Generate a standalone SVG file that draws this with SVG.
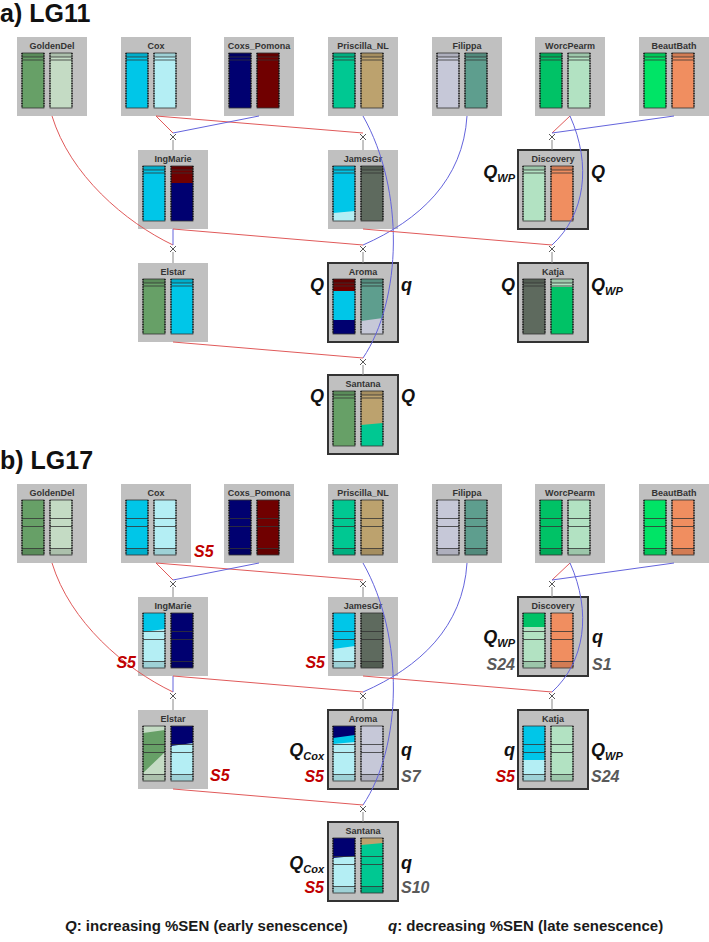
<svg xmlns="http://www.w3.org/2000/svg" width="709" height="942" viewBox="0 0 709 942">
<style>
.box{fill:#c0c0c0}
.boxb{fill:#c0c0c0;stroke:#333;stroke-width:2}
.t{font-family:"Liberation Sans",Arial,sans-serif;font-weight:bold;font-size:9px;fill:#333;text-anchor:middle}
.r{stroke:#e05a5a;fill:none;stroke-width:1}
.b{stroke:#6464dc;fill:none;stroke-width:1}
.x{stroke:#444;stroke-width:0.9;fill:none}
.stem{stroke:#888;stroke-width:1}
.lab{font-family:"Liberation Sans",Arial,sans-serif;font-weight:bold;font-style:italic;font-size:18px;fill:#111}
.sub{font-size:11px}
.s{font-family:"Liberation Sans",Arial,sans-serif;font-weight:bold;font-style:italic;font-size:16px}
.red{fill:#c00000}
.gry{fill:#595959}
.end{text-anchor:end}
.title{font-family:"Liberation Sans",Arial,sans-serif;font-weight:bold;font-size:25px;fill:#111}
.foot{font-family:"Liberation Sans",Arial,sans-serif;font-weight:bold;font-size:15px;fill:#1a1a1a}
</style>
<defs>
<g id="ovA">
<rect x="5" y="16" width="22" height="4" fill="#000" opacity="0.12"/>
<rect x="33" y="16" width="22" height="4" fill="#000" opacity="0.12"/>
<path d="M5,20h22M5,23h22M33,20h22M33,23h22" stroke="#333" stroke-width="0.8"/>
<rect x="5" y="16" width="22" height="55" fill="none" stroke="#333" stroke-width="0.8"/>
<rect x="33" y="16" width="22" height="55" fill="none" stroke="#333" stroke-width="0.8"/>
<path d="M5,16v55M27,16v55M33,16v55M55,16v55" stroke="#000" stroke-width="1.2" stroke-dasharray="1 1.5"/>
</g>
<g id="ovB">
<rect x="5" y="64.5" width="22" height="6.5" fill="#000" opacity="0.12"/>
<rect x="33" y="64.5" width="22" height="6.5" fill="#000" opacity="0.12"/>
<path d="M5,34.5h22M5,42.5h22M5,64.5h22M33,34.5h22M33,42.5h22M33,64.5h22" stroke="#333" stroke-width="0.8"/>
<rect x="5" y="16" width="22" height="55" fill="none" stroke="#333" stroke-width="0.8"/>
<rect x="33" y="16" width="22" height="55" fill="none" stroke="#333" stroke-width="0.8"/>
<path d="M5,16v55M27,16v55M33,16v55M55,16v55" stroke="#000" stroke-width="1.2" stroke-dasharray="1 1.5"/>
</g>
</defs>

<text class="title" x="0" y="22">a) LG11</text>
<text class="title" x="0" y="469">b) LG17</text>

<!-- ============ PANEL A NODES ============ -->
<g id="a-goldendel" transform="translate(17,37)">
<rect class="box" width="70" height="79"/><text class="t" x="35" y="12">GoldenDel</text>
<rect x="5" y="16" width="22" height="55" fill="#67a067"/><rect x="33" y="16" width="22" height="55" fill="#c4dbc4"/>
<use href="#ovA"/></g>
<g id="a-cox" transform="translate(121,37)">
<rect class="box" width="70" height="79"/><text class="t" x="35" y="12">Cox</text>
<rect x="5" y="16" width="22" height="55" fill="#00c6e8"/><rect x="33" y="16" width="22" height="55" fill="#b4eef4"/>
<use href="#ovA"/></g>
<g id="a-coxs_pomona" transform="translate(224,37)">
<rect class="box" width="70" height="79"/><text class="t" x="35" y="12">Coxs_Pomona</text>
<rect x="5" y="16" width="22" height="55" fill="#000070"/><rect x="33" y="16" width="22" height="55" fill="#700000"/>
<use href="#ovA"/></g>
<g id="a-priscilla_nl" transform="translate(328,37)">
<rect class="box" width="70" height="79"/><text class="t" x="35" y="12">Priscilla_NL</text>
<rect x="5" y="16" width="22" height="55" fill="#00c892"/><rect x="33" y="16" width="22" height="55" fill="#bca26e"/>
<use href="#ovA"/></g>
<g id="a-filippa" transform="translate(432,37)">
<rect class="box" width="70" height="79"/><text class="t" x="35" y="12">Filippa</text>
<rect x="5" y="16" width="22" height="55" fill="#c6c8d8"/><rect x="33" y="16" width="22" height="55" fill="#5e9e8e"/>
<use href="#ovA"/></g>
<g id="a-worcpearm" transform="translate(535,37)">
<rect class="box" width="70" height="79"/><text class="t" x="35" y="12">WorcPearm</text>
<rect x="5" y="16" width="22" height="55" fill="#00c266"/><rect x="33" y="16" width="22" height="55" fill="#b2e2c2"/>
<use href="#ovA"/></g>
<g id="a-beautbath" transform="translate(639,37)">
<rect class="box" width="70" height="79"/><text class="t" x="35" y="12">BeautBath</text>
<rect x="5" y="16" width="22" height="55" fill="#00e466"/><rect x="33" y="16" width="22" height="55" fill="#f08e60"/>
<use href="#ovA"/></g>

<g id="a-ingmarie" transform="translate(138,150)">
<rect class="box" width="70" height="79"/><text class="t" x="35" y="12">IngMarie</text>
<rect x="5" y="16" width="22" height="55" fill="#00c6e8"/>
<rect x="33" y="16" width="22" height="55" fill="#000070"/><rect x="33" y="16" width="22" height="17" fill="#700000"/>
<use href="#ovA"/></g>
<g id="a-jamesgr" transform="translate(328,150)">
<rect class="box" width="70" height="79"/><text class="t" x="35" y="12">JamesGr</text>
<rect x="5" y="16" width="22" height="55" fill="#00c6e8"/><polygon points="5,63 27,61 27,71 5,71" fill="#b4eef4"/>
<rect x="33" y="16" width="22" height="55" fill="#5e6a5e"/>
<use href="#ovA"/></g>
<g id="a-discovery" transform="translate(518,150)">
<rect class="boxb" width="70" height="79"/><text class="t" x="35" y="12">Discovery</text>
<rect x="5" y="16" width="22" height="55" fill="#b2e2c2"/><rect x="33" y="16" width="22" height="55" fill="#f08e60"/>
<use href="#ovA"/></g>

<g id="a-elstar" transform="translate(138,263)">
<rect class="box" width="70" height="79"/><text class="t" x="35" y="12">Elstar</text>
<rect x="5" y="16" width="22" height="55" fill="#67a067"/><rect x="33" y="16" width="22" height="55" fill="#00c6e8"/>
<use href="#ovA"/></g>
<g id="a-aroma" transform="translate(328,263)">
<rect class="boxb" width="70" height="79"/><text class="t" x="35" y="12">Aroma</text>
<rect x="5" y="16" width="22" height="12" fill="#700000"/><rect x="5" y="28" width="22" height="29" fill="#00c6e8"/><rect x="5" y="57" width="22" height="14" fill="#000070"/>
<rect x="33" y="16" width="22" height="55" fill="#c6c8d8"/><polygon points="33,16 55,16 55,55 33,58" fill="#5e9e8e"/>
<use href="#ovA"/></g>
<g id="a-katja" transform="translate(518,263)">
<rect class="boxb" width="70" height="79"/><text class="t" x="35" y="12">Katja</text>
<rect x="5" y="16" width="22" height="55" fill="#5e6a5e"/>
<rect x="33" y="16" width="22" height="55" fill="#00c266"/><rect x="33" y="16" width="22" height="8" fill="#b2e2c2"/>
<use href="#ovA"/></g>
<g id="a-santana" transform="translate(328,375)">
<rect class="boxb" width="70" height="79"/><text class="t" x="35" y="12">Santana</text>
<rect x="5" y="16" width="22" height="55" fill="#67a067"/>
<rect x="33" y="16" width="22" height="55" fill="#00c892"/><polygon points="33,16 55,16 55,48 33,50" fill="#bca26e"/>
<use href="#ovA"/></g>

<!-- ============ PANEL B NODES ============ -->
<g id="b-goldendel" transform="translate(17,484)">
<rect class="box" width="70" height="79"/><text class="t" x="35" y="12">GoldenDel</text>
<rect x="5" y="16" width="22" height="55" fill="#67a067"/><rect x="33" y="16" width="22" height="55" fill="#c4dbc4"/>
<use href="#ovB"/></g>
<g id="b-cox" transform="translate(121,484)">
<rect class="box" width="70" height="79"/><text class="t" x="35" y="12">Cox</text>
<rect x="5" y="16" width="22" height="55" fill="#00c6e8"/><rect x="33" y="16" width="22" height="55" fill="#b4eef4"/>
<use href="#ovB"/></g>
<g id="b-coxs_pomona" transform="translate(224,484)">
<rect class="box" width="70" height="79"/><text class="t" x="35" y="12">Coxs_Pomona</text>
<rect x="5" y="16" width="22" height="55" fill="#000070"/><rect x="33" y="16" width="22" height="55" fill="#700000"/>
<use href="#ovB"/></g>
<g id="b-priscilla_nl" transform="translate(328,484)">
<rect class="box" width="70" height="79"/><text class="t" x="35" y="12">Priscilla_NL</text>
<rect x="5" y="16" width="22" height="55" fill="#00c892"/><rect x="33" y="16" width="22" height="55" fill="#bca26e"/>
<use href="#ovB"/></g>
<g id="b-filippa" transform="translate(432,484)">
<rect class="box" width="70" height="79"/><text class="t" x="35" y="12">Filippa</text>
<rect x="5" y="16" width="22" height="55" fill="#c6c8d8"/><rect x="33" y="16" width="22" height="55" fill="#5e9e8e"/>
<use href="#ovB"/></g>
<g id="b-worcpearm" transform="translate(535,484)">
<rect class="box" width="70" height="79"/><text class="t" x="35" y="12">WorcPearm</text>
<rect x="5" y="16" width="22" height="55" fill="#00c266"/><rect x="33" y="16" width="22" height="55" fill="#b2e2c2"/>
<use href="#ovB"/></g>
<g id="b-beautbath" transform="translate(639,484)">
<rect class="box" width="70" height="79"/><text class="t" x="35" y="12">BeautBath</text>
<rect x="5" y="16" width="22" height="55" fill="#00e466"/><rect x="33" y="16" width="22" height="55" fill="#f08e60"/>
<use href="#ovB"/></g>

<g id="b-ingmarie" transform="translate(138,597)">
<rect class="box" width="70" height="79"/><text class="t" x="35" y="12">IngMarie</text>
<rect x="5" y="16" width="22" height="55" fill="#b4eef4"/><polygon points="5,16 27,16 27,32 5,35" fill="#00c6e8"/>
<rect x="33" y="16" width="22" height="55" fill="#000070"/>
<use href="#ovB"/></g>
<g id="b-jamesgr" transform="translate(328,597)">
<rect class="box" width="70" height="79"/><text class="t" x="35" y="12">JamesGr</text>
<rect x="5" y="16" width="22" height="55" fill="#b4eef4"/><polygon points="5,16 27,16 27,49 5,52" fill="#00c6e8"/>
<rect x="33" y="16" width="22" height="55" fill="#5e6a5e"/>
<use href="#ovB"/></g>
<g id="b-discovery" transform="translate(518,597)">
<rect class="boxb" width="70" height="79"/><text class="t" x="35" y="12">Discovery</text>
<rect x="5" y="16" width="22" height="55" fill="#b2e2c2"/><rect x="5" y="16" width="22" height="14" fill="#00c266"/>
<rect x="33" y="16" width="22" height="55" fill="#f08e60"/>
<use href="#ovB"/></g>

<g id="b-elstar" transform="translate(138,710)">
<rect class="box" width="70" height="79"/><text class="t" x="35" y="12">Elstar</text>
<rect x="5" y="16" width="22" height="55" fill="#c4dbc4"/><polygon points="5,23 27,20 27,42 5,63" fill="#67a067"/>
<rect x="33" y="16" width="22" height="55" fill="#b4eef4"/><polygon points="33,16 55,16 55,33 33,36" fill="#000070"/>
<use href="#ovB"/></g>
<g id="b-aroma" transform="translate(328,710)">
<rect class="boxb" width="70" height="79"/><text class="t" x="35" y="12">Aroma</text>
<rect x="5" y="16" width="22" height="55" fill="#b4eef4"/><polygon points="5,16 27,16 27,32 5,34" fill="#00c6e8"/><polygon points="5,16 27,16 27,25 5,28" fill="#000070"/>
<rect x="33" y="16" width="22" height="55" fill="#c6c8d8"/>
<use href="#ovB"/></g>
<g id="b-katja" transform="translate(518,710)">
<rect class="boxb" width="70" height="79"/><text class="t" x="35" y="12">Katja</text>
<rect x="5" y="16" width="22" height="55" fill="#b4eef4"/><rect x="5" y="16" width="22" height="34" fill="#00c6e8"/>
<rect x="33" y="16" width="22" height="55" fill="#b2e2c2"/>
<use href="#ovB"/></g>
<g id="b-santana" transform="translate(328,822)">
<rect class="boxb" width="70" height="79"/><text class="t" x="35" y="12">Santana</text>
<rect x="5" y="16" width="22" height="55" fill="#b4eef4"/><polygon points="5,16 27,16 27,34 5,36" fill="#000070"/>
<rect x="33" y="16" width="22" height="55" fill="#00c892"/><polygon points="33,16 55,16 55,21 33,23" fill="#bca26e"/>
<use href="#ovB"/></g>

<!-- ============ CONNECTORS ============ -->
<g id="connectors">
<g id="conn-a">
<path class="r" d="M52,116 C70,175 125,222 173,245"/>
<path class="r" d="M156,116 L173,133"/>
<path class="r" d="M156,116 L363,133"/>
<path class="b" d="M259,116 L173,133"/>
<path class="b" d="M363,116 C405,190 402,300 363,358"/>
<path class="b" d="M467,116 C463,180 420,220 363,245"/>
<path class="r" d="M570,116 L552,133"/>
<path class="b" d="M674,116 L552,133"/>
<path class="b" d="M570,116 C592,165 585,215 552,245"/>
<path class="b" d="M173,229 L173,245"/>
<path class="r" d="M173,229 L363,245"/>
<path class="r" d="M363,229 L552,245"/>
<path class="r" d="M173,342 L363,358"/>
<path class="stem" d="M173,140V150M363,140V150M552,140V150M173,252V263M363,252V263M552,252V263M363,365V375"/>
<path class="x" d="M170,134l6,6m0,-6l-6,6M360,134l6,6m0,-6l-6,6M549,134l6,6m0,-6l-6,6M170,246l6,6m0,-6l-6,6M360,246l6,6m0,-6l-6,6M549,246l6,6m0,-6l-6,6M360,359l6,6m0,-6l-6,6"/>
</g>
<g id="conn-b" transform="translate(0,447)">
<path class="r" d="M52,116 C70,175 125,222 173,245"/>
<path class="r" d="M156,116 L173,133"/>
<path class="r" d="M156,116 L363,133"/>
<path class="b" d="M259,116 L173,133"/>
<path class="b" d="M363,116 C405,190 402,300 363,358"/>
<path class="b" d="M467,116 C463,180 420,220 363,245"/>
<path class="r" d="M570,116 L552,133"/>
<path class="b" d="M674,116 L552,133"/>
<path class="b" d="M570,116 C592,165 585,215 552,245"/>
<path class="b" d="M173,229 L173,245"/>
<path class="r" d="M173,229 L363,245"/>
<path class="r" d="M363,229 L552,245"/>
<path class="r" d="M173,342 L363,358"/>
<path class="stem" d="M173,140V150M363,140V150M552,140V150M173,252V263M363,252V263M552,252V263M363,365V375"/>
<path class="x" d="M170,134l6,6m0,-6l-6,6M360,134l6,6m0,-6l-6,6M549,134l6,6m0,-6l-6,6M170,246l6,6m0,-6l-6,6M360,246l6,6m0,-6l-6,6M549,246l6,6m0,-6l-6,6M360,359l6,6m0,-6l-6,6"/>
</g>
</g>

<!-- ============ LABELS A ============ -->
<g id="labels-a">
<text class="lab end" x="515" y="178">Q<tspan class="sub" dy="4">WP</tspan></text>
<text class="lab" x="591" y="178">Q</text>
<text class="lab end" x="324" y="291">Q</text>
<text class="lab" x="401" y="291">q</text>
<text class="lab end" x="515" y="291">Q</text>
<text class="lab" x="591" y="291">Q<tspan class="sub" dy="4">WP</tspan></text>
<text class="lab end" x="324" y="402">Q</text>
<text class="lab" x="401" y="402">Q</text>
</g>

<!-- ============ LABELS B ============ -->
<g id="labels-b">
<text class="s red" x="194" y="557">S5</text>
<text class="s red end" x="136" y="668">S5</text>
<text class="s red end" x="325" y="668">S5</text>
<text class="lab end" x="515" y="643">Q<tspan class="sub" dy="4">WP</tspan></text>
<text class="lab" x="592" y="643">q</text>
<text class="s gry end" x="515" y="670">S24</text>
<text class="s gry" x="592" y="670">S1</text>
<text class="s red" x="210" y="781">S5</text>
<text class="lab end" x="324" y="756">Q<tspan class="sub" dy="4">Cox</tspan></text>
<text class="lab" x="401" y="756">q</text>
<text class="s red end" x="324" y="782">S5</text>
<text class="s gry" x="401" y="782">S7</text>
<text class="lab end" x="515" y="756">q</text>
<text class="lab" x="591" y="756">Q<tspan class="sub" dy="4">WP</tspan></text>
<text class="s red end" x="515" y="782">S5</text>
<text class="s gry" x="591" y="782">S24</text>
<text class="lab end" x="324" y="869">Q<tspan class="sub" dy="4">Cox</tspan></text>
<text class="lab" x="401" y="869">q</text>
<text class="s red end" x="324" y="893">S5</text>
<text class="s gry" x="401" y="893">S10</text>
</g>

<text class="foot" x="65" y="931"><tspan font-style="italic">Q</tspan>: increasing %SEN (early senescence)</text>
<text class="foot" x="388" y="931"><tspan font-style="italic">q</tspan>: decreasing %SEN (late senescence)</text>
</svg>
